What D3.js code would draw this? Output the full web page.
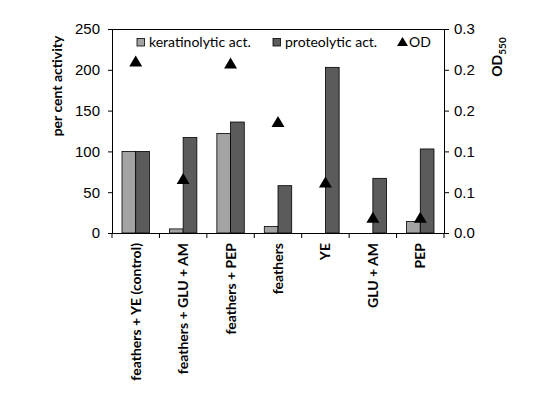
<!DOCTYPE html>
<html>
<head>
<meta charset="utf-8">
<script src="https://cdn.jsdelivr.net/npm/d3@7"></script>
<style>
  body { margin: 0; background: #fff; }
  svg { font-family: Lato, "Open Sans", sans-serif; }
  .axis text { fill: #000; }
</style>
</head>
<body>
<svg id="svg" width="548" height="399"></svg>
<script>
const categories = ['feathers + YE (control)', 'feathers + GLU + AM', 'feathers + PEP', 'feathers', 'YE', 'GLU + AM', 'PEP'];
const keratinolytic = [100, 5, 122, 8, 0, 0, 14];
const proteolytic = [100, 117, 136, 58, 203, 67, 103];
const od = [0.253, 0.080, 0.250, 0.164, 0.075, 0.023, 0.023];
const leftTicks = [0, 50, 100, 150, 200, 250];
const rightTicks = [0, 0.06, 0.12, 0.18, 0.24, 0.3];
const seriesNames = ['keratinolytic act.', 'proteolytic act.', 'OD'];

const colors = { ker: '#a3a3a3', pro: '#5b5b5b' };
const plotLeft = 112, plotRight = 444, plotTop = 29, plotBottom = 233;

const svg = d3.select('#svg');

const x = d3.scaleBand().domain(categories).range([plotLeft, plotRight]).paddingInner(0).paddingOuter(0);
const x1 = d3.scaleBand().domain(['ker', 'pro']).range([0, x.bandwidth()]).paddingOuter(0.73);
const y = d3.scaleLinear().domain([0, 250]).range([plotBottom, plotTop]);
const y2 = d3.scaleLinear().domain([0, 0.3]).range([plotBottom, plotTop]);

// frame top line
svg.append('line').attr('x1', plotLeft).attr('x2', plotRight).attr('y1', plotTop + 0.5).attr('y2', plotTop + 0.5)
  .attr('stroke', '#000').attr('stroke-width', 1);

// bars
const groups = svg.append('g').selectAll('g').data(categories).join('g')
  .attr('transform', (d) => 'translate(' + x(d) + ',0)');

groups.append('rect')
  .attr('x', (d, i) => x1('ker'))
  .attr('y', (d, i) => y(keratinolytic[i]))
  .attr('width', x1.bandwidth())
  .attr('height', (d, i) => y(0) - y(keratinolytic[i]))
  .attr('fill', colors.ker).attr('stroke', '#000').attr('stroke-width', 0.8)
  .style('display', (d, i) => keratinolytic[i] > 0 ? null : 'none');

groups.append('rect')
  .attr('x', (d, i) => x1('pro'))
  .attr('y', (d, i) => y(proteolytic[i]))
  .attr('width', x1.bandwidth())
  .attr('height', (d, i) => y(0) - y(proteolytic[i]))
  .attr('fill', colors.pro).attr('stroke', '#000').attr('stroke-width', 0.8);

// OD triangles
const tri = 'M0,-5.5L6.5,5.5L-6.5,5.5Z';
svg.append('g').selectAll('path').data(categories).join('path')
  .attr('d', tri)
  .attr('transform', (d, i) => 'translate(' + (x(d) + x.bandwidth() / 2) + ',' + y2(od[i]) + ')')
  .attr('fill', '#000');

// axes
const gy = svg.append('g').attr('class', 'axis').attr('transform', 'translate(' + plotLeft + ',0)')
  .call(d3.axisLeft(y).tickValues(leftTicks).tickSize(4).tickPadding(8));
gy.selectAll('text').style('font-size', '15px');

const gy2 = svg.append('g').attr('class', 'axis').attr('transform', 'translate(' + plotRight + ',0)')
  .call(d3.axisRight(y2).tickValues(rightTicks).tickFormat(d3.format('.1f')).tickSize(5).tickPadding(5));
gy2.selectAll('text').style('font-size', '15px');

const gx = svg.append('g').attr('class', 'axis').attr('transform', 'translate(0,' + plotBottom + ')')
  .call(d3.axisBottom(x).tickSize(0).tickFormat(''));
gx.selectAll('.tick').remove();
gx.selectAll('line.b').data(categories.concat(['end'])).join('line')
  .attr('x1', (d, i) => i < categories.length ? x(d) : plotRight)
  .attr('x2', (d, i) => i < categories.length ? x(d) : plotRight)
  .attr('y1', 0).attr('y2', 5).attr('stroke', '#000');

svg.selectAll('.axis path.domain').attr('stroke', '#000');

// category labels
svg.append('g').selectAll('text').data(categories).join('text')
  .attr('transform', (d) => 'translate(' + (x(d) + x.bandwidth() / 2 + 5) + ',' + (plotBottom + 10) + ') rotate(-90)')
  .attr('text-anchor', 'end')
  .style('font-size', '14px').style('font-weight', 'bold')
  .text((d) => d);

// axis titles
svg.append('text')
  .attr('transform', 'translate(62,86) rotate(-90)')
  .attr('text-anchor', 'middle')
  .style('font-size', '14px').style('font-weight', 'bold')
  .text('per cent activity');

const odTitle = svg.append('text')
  .attr('transform', 'translate(502,57) rotate(-90)')
  .attr('text-anchor', 'middle')
  .style('font-size', '14px').style('font-weight', 'bold');
odTitle.append('tspan').text('OD');
odTitle.append('tspan').attr('dy', 4).style('font-size', '10px').text('550');

// legend
const legend = svg.append('g');
const legendX = [137, 273, 397];
legend.append('rect').attr('x', legendX[0]).attr('y', 38.5).attr('width', 7.5).attr('height', 7.5)
  .attr('fill', colors.ker).attr('stroke', '#000').attr('stroke-width', 0.8);
legend.append('rect').attr('x', legendX[1]).attr('y', 38.5).attr('width', 7.5).attr('height', 7.5)
  .attr('fill', colors.pro).attr('stroke', '#000').attr('stroke-width', 0.8);
legend.append('path').attr('d', 'M0,-5L5.5,4L-5.5,4Z')
  .attr('transform', 'translate(' + (legendX[2] + 5.5) + ',42)').attr('fill', '#000');
legend.selectAll('text').data(seriesNames).join('text')
  .attr('x', (d, i) => legendX[i] + 12)
  .attr('y', 47)
  .style('font-size', '14px')
  .text((d) => d);
</script>
</body>
</html>
